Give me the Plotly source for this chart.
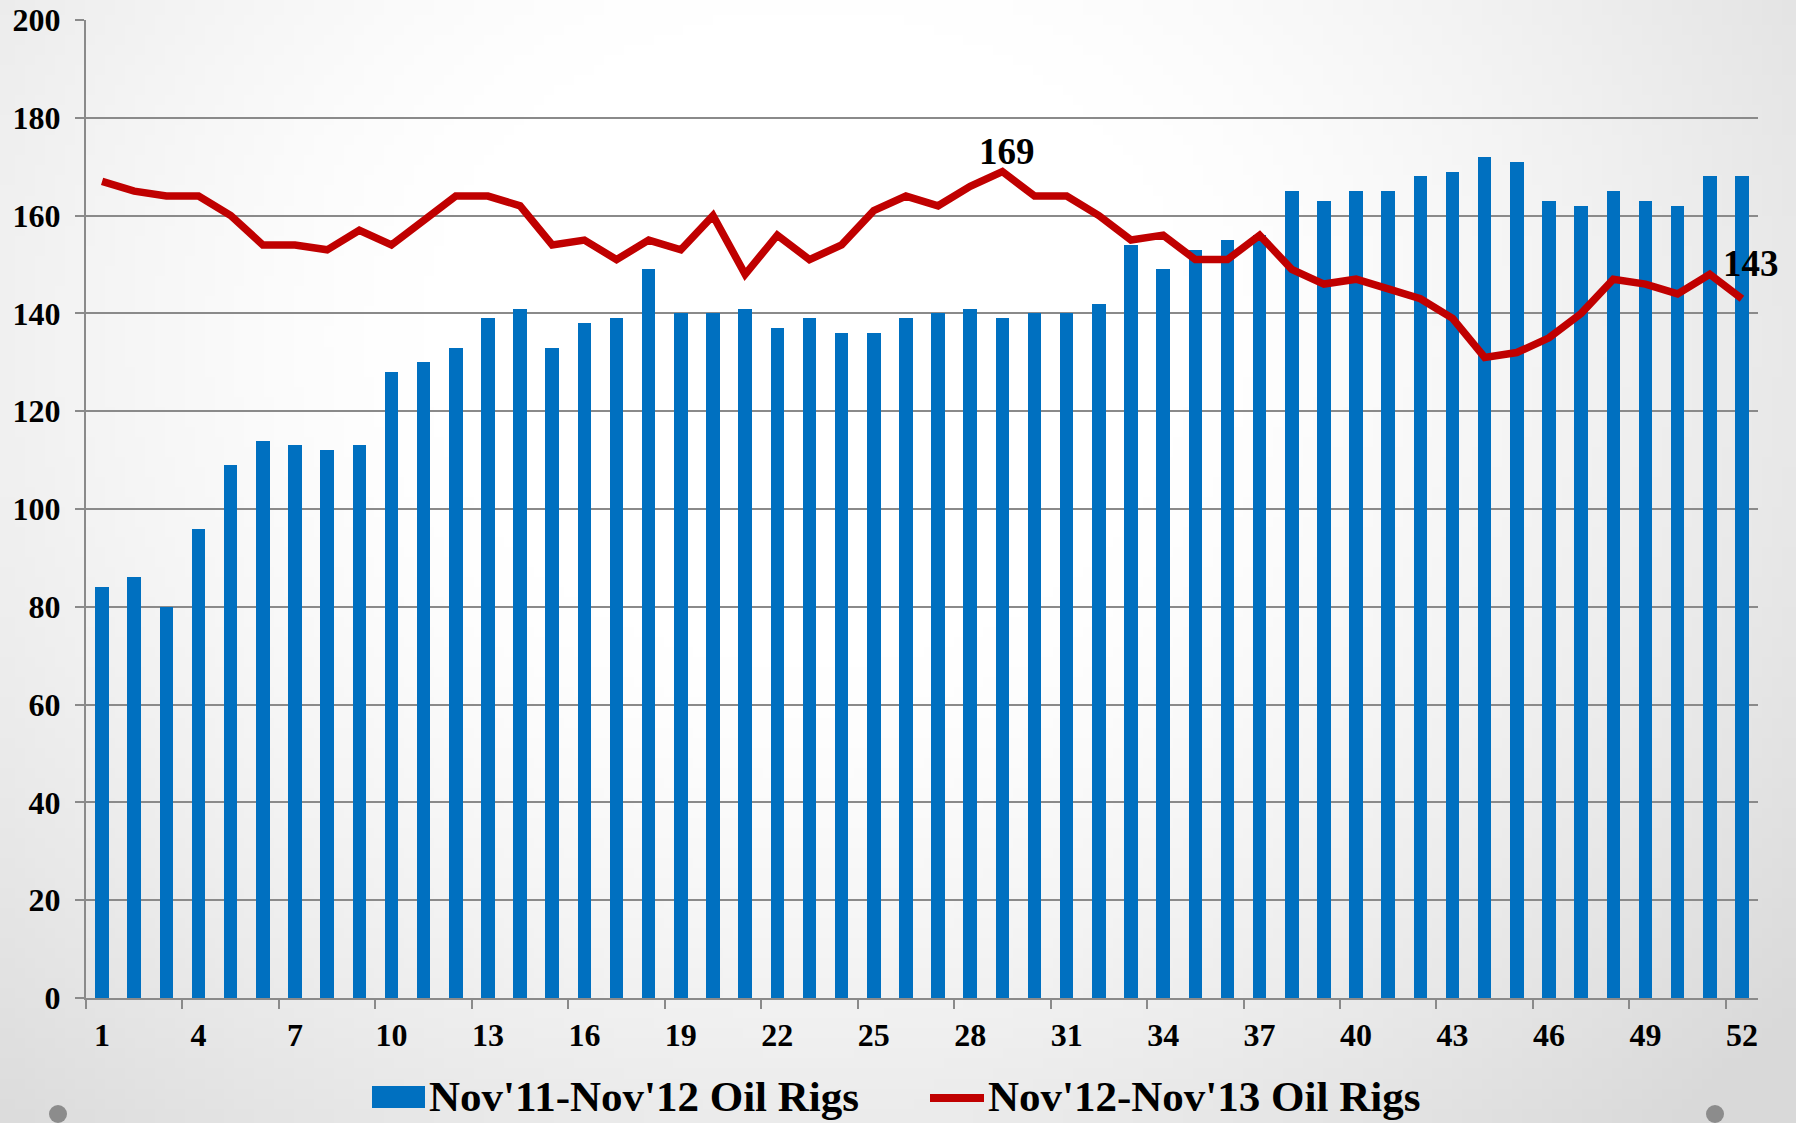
import base64
import struct
import zlib

import numpy as np
import plotly.graph_objects as go

# ---------------- data ----------------
weeks = list(range(1, 53))
rigs_nov11_nov12 = [84, 86, 80, 96, 109, 114, 113, 112, 113, 128,
                    130, 133, 139, 141, 133, 138, 139, 149, 140, 140,
                    141, 137, 139, 136, 136, 139, 140, 141, 139, 140,
                    140, 142, 154, 149, 153, 155, 156, 165, 163, 165,
                    165, 168, 169, 172, 171, 163, 162, 165, 163, 162,
                    168, 168]
rigs_nov12_nov13 = [167, 165, 164, 164, 160, 154, 154, 153, 157, 154,
                    159, 164, 164, 162, 154, 155, 151, 155, 153, 160,
                    148, 156, 151, 154, 161, 164, 162, 166, 169, 164,
                    164, 160, 155, 156, 151, 151, 156, 149, 146, 147,
                    145, 143, 139, 131, 132, 135, 140, 147, 146, 144,
                    148, 143]
series_names = ["Nov'11-Nov'12 Oil Rigs", "Nov'12-Nov'13 Oil Rigs"]
x_tick_labels = weeks[::3]
y_ticks = list(range(0, 201, 20))

# ---------------- geometry / style ----------------
W, H = 1796, 1123
ML, MR, MT, MB = 86, 38, 20, 125
PW, PH = W - ML - MR, H - MT - MB
FONT = "Liberation Serif"
BLUE = "#0070C0"
RED = "#C00000"
GRID = "#8a8a8a"


def px_to_paper(px, py):
    return (px - ML) / PW, (H - MB - py) / PH


def make_png(arr):
    h, w, _ = arr.shape
    raw = b"".join(b"\x00" + arr[i].tobytes() for i in range(h))

    def chunk(t, d):
        c = struct.pack(">I", len(d)) + t + d
        return c + struct.pack(">I", zlib.crc32(t + d) & 0xFFFFFFFF)

    ihdr = struct.pack(">IIBBBBB", w, h, 8, 2, 0, 0, 0)
    return (b"\x89PNG\r\n\x1a\n" + chunk(b"IHDR", ihdr)
            + chunk(b"IDAT", zlib.compress(raw)) + chunk(b"IEND", b""))


# soft radial slide background
gw, gh = 180, 112
uu, vv = np.meshgrid(np.linspace(0, 1, gw), np.linspace(0, 1, gh))
d = np.sqrt(((uu - 0.45) / 0.55) ** 2 + ((vv - 0.3) / 0.75) ** 2)
g = 255 - 38 * np.clip((d - 0.4) / 0.9, 0, 1) ** 1.3
bg = np.clip(np.stack([g, g, g], axis=-1), 0, 255).astype(np.uint8)
bg_uri = "data:image/png;base64," + base64.b64encode(make_png(bg)).decode()

fig = go.Figure()
fig.add_trace(go.Bar(
    x=weeks, y=rigs_nov11_nov12, name=series_names[0],
    marker=dict(color=BLUE, line=dict(width=0)), width=0.42,
))
fig.add_trace(go.Scatter(
    x=weeks, y=rigs_nov12_nov13, name=series_names[1], mode="lines",
    line=dict(color=RED, width=7.5),
))

# labels on max and last point of the line
imax = int(np.argmax(rigs_nov12_nov13))
fig.add_annotation(x=weeks[imax], y=rigs_nov12_nov13[imax],
                   text=str(rigs_nov12_nov13[imax]), showarrow=False,
                   yanchor="bottom", xshift=5, yshift=-2,
                   font=dict(family=FONT, size=37, color="black", weight="bold"))
fig.add_annotation(x=weeks[-1], y=rigs_nov12_nov13[-1],
                   text=str(rigs_nov12_nov13[-1]), showarrow=False,
                   yanchor="bottom", xshift=9, yshift=13,
                   font=dict(family=FONT, size=37, color="black", weight="bold"))

shapes = []
# decorative slide dots
for cx, cy in [(58, 1114), (1715, 1114)]:
    x0, y0 = px_to_paper(cx - 9, cy + 9)
    x1, y1 = px_to_paper(cx + 9, cy - 9)
    shapes.append(dict(type="circle", xref="paper", yref="paper",
                       x0=x0, x1=x1, y0=y0, y1=y1,
                       fillcolor="#8c8c8c", line=dict(width=0)))

# legend (drawn as swatches + text)
LEG_Y = 1096
bx0, by0 = px_to_paper(372, 1108)
bx1, by1 = px_to_paper(425, 1086)
shapes.append(dict(type="rect", xref="paper", yref="paper",
                   x0=bx0, x1=bx1, y0=by0, y1=by1,
                   fillcolor=BLUE, line=dict(width=0)))
lx0, ly = px_to_paper(930, 1098)
lx1, _ = px_to_paper(984, 1098)
shapes.append(dict(type="line", xref="paper", yref="paper",
                   x0=lx0, x1=lx1, y0=ly, y1=ly,
                   line=dict(color=RED, width=8)))
for name, left in zip(series_names, [427, 986]):
    tx, ty = px_to_paper(left, LEG_Y)
    fig.add_annotation(x=tx, y=ty, xref="paper", yref="paper",
                       text=name, showarrow=False,
                       xanchor="left", yanchor="middle",
                       font=dict(family=FONT, size=43, color="black",
                                 weight="bold"))

fig.update_layout(
    width=W, height=H,
    margin=dict(l=ML, r=MR, t=MT, b=MB, pad=0, autoexpand=False),
    paper_bgcolor="white",
    plot_bgcolor="rgba(0,0,0,0)",
    font=dict(family=FONT, size=32, color="black", weight="bold"),
    bargap=0,
    showlegend=False,
    images=[dict(source=bg_uri, xref="paper", yref="paper",
                 x=-ML / PW, y=1 + MT / PH, sizex=W / PW, sizey=H / PH,
                 xanchor="left", yanchor="top", sizing="stretch",
                 layer="below")],
    shapes=shapes,
)

fig.update_xaxes(
    range=[0.5, 52.5], tickmode="array", tickvals=x_tick_labels,
    ticktext=[str(v) for v in x_tick_labels],
    ticks="", showgrid=False, zeroline=False,
    showline=True, linecolor=GRID, linewidth=2,
    ticklabelstandoff=8, automargin=False,
    minor=dict(tickmode="linear", tick0=0.5, dtick=3, ticks="outside",
               ticklen=9, tickcolor=GRID, tickwidth=2, showgrid=False),
    tickfont=dict(family=FONT, size=32, color="black", weight="bold"),
)
fig.update_yaxes(
    range=[0, 200], tickmode="array", tickvals=y_ticks,
    ticks="outside", ticklen=9, tickcolor=GRID, tickwidth=2,
    showgrid=True, gridcolor=GRID, gridwidth=2, zeroline=False,
    showline=True, linecolor=GRID, linewidth=2,
    ticklabelstandoff=8, automargin=False,
    tickfont=dict(family=FONT, size=32, color="black", weight="bold"),
)

fig.write_html("out.html",
               config={"displayModeBar": False},
               post_script="document.body.style.margin='0';"
                           "document.body.style.overflow='hidden';")
